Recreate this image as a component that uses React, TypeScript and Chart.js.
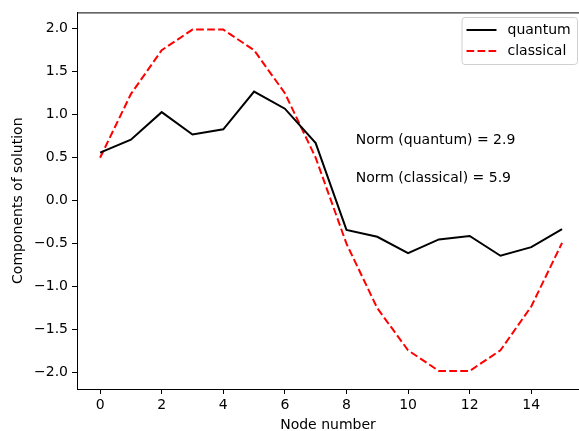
import { useEffect, useRef } from 'react';
import { Chart, registerables } from 'chart.js';

Chart.register(...registerables);

const nodes = [0, 1, 2, 3, 4, 5, 6, 7, 8, 9, 10, 11, 12, 13, 14, 15];
const quantum = [0.56, 0.71, 1.03, 0.77, 0.83, 1.27, 1.07, 0.67, -0.34, -0.42, -0.61, -0.45, -0.41, -0.64, -0.54, -0.33];
const classical = [0.5, 1.24, 1.75, 1.99, 1.99, 1.75, 1.25, 0.5, -0.5, -1.25, -1.74, -1.98, -1.98, -1.74, -1.23, -0.49];
const xTickValues = [0, 2, 4, 6, 8, 10, 12, 14];
const yTickValues = [-2, -1.5, -1, -0.5, 0, 0.5, 1, 1.5, 2];
const seriesLabels = ['quantum', 'classical'];
const annotationTexts = ['Norm (quantum) = 2.9', 'Norm (classical) = 5.9'];
const annotationX = 8.3;
const annotationY = [0.7, 0.26];

const FONT = '"DejaVu Sans", sans-serif';
const FS = 14;

const fmtY = (v: number) => (v < 0 ? '\u2212' : '') + Math.abs(v).toFixed(1);

const extrasPlugin = {
  id: 'extras',
  afterDatasetsDraw(chart: any) {
    const { ctx, chartArea, scales } = chart;
    ctx.save();
    // top spine
    ctx.strokeStyle = '#000';
    ctx.lineWidth = 1;
    ctx.beginPath();
    ctx.moveTo(chartArea.left, chartArea.top + 0.5);
    ctx.lineTo(chartArea.right, chartArea.top + 0.5);
    ctx.stroke();

    // annotations
    ctx.fillStyle = '#000';
    ctx.font = `${FS}px ${FONT}`;
    ctx.textAlign = 'left';
    ctx.textBaseline = 'middle';
    annotationTexts.forEach((t, i) => {
      ctx.fillText(t, scales.x.getPixelForValue(annotationX), scales.y.getPixelForValue(annotationY[i]));
    });

    // legend
    const right = chart.width - 1.5;
    const left = right - 115.5;
    const top = 17.5;
    const bottom = 64.5;
    const r = 3;
    ctx.beginPath();
    ctx.moveTo(left + r, top);
    ctx.lineTo(right - r, top);
    ctx.arcTo(right, top, right, top + r, r);
    ctx.lineTo(right, bottom - r);
    ctx.arcTo(right, bottom, right - r, bottom, r);
    ctx.lineTo(left + r, bottom);
    ctx.arcTo(left, bottom, left, bottom - r, r);
    ctx.lineTo(left, top + r);
    ctx.arcTo(left, top, left + r, top, r);
    ctx.closePath();
    ctx.fillStyle = 'rgba(255,255,255,0.8)';
    ctx.fill();
    ctx.strokeStyle = '#d0d0d0';
    ctx.lineWidth = 1;
    ctx.stroke();

    chart.data.datasets.forEach((ds: any, i: number) => {
      const y = 30 + i * 21;
      ctx.strokeStyle = ds.borderColor;
      ctx.lineWidth = ds.borderWidth;
      ctx.setLineDash(ds.borderDash || []);
      ctx.beginPath();
      ctx.moveTo(left + 4.5, y);
      ctx.lineTo(left + 34.5, y);
      ctx.stroke();
      ctx.setLineDash([]);
      ctx.fillStyle = '#000';
      ctx.textBaseline = 'middle';
      ctx.fillText(ds.label, left + 45.5, y);
    });
    ctx.restore();
  },
};

export default function App() {
  const ref = useRef<HTMLCanvasElement | null>(null);
  useEffect(() => {
    if (!ref.current) return;
    const chart = new Chart(ref.current, {
      type: 'line',
      data: {
        datasets: [
          {
            label: seriesLabels[0],
            data: nodes.map((x, i) => ({ x, y: quantum[i] })),
            borderColor: '#000000',
            borderWidth: 2,
            pointRadius: 0,
            tension: 0,
            fill: false,
          },
          {
            label: seriesLabels[1],
            data: nodes.map((x, i) => ({ x, y: classical[i] })),
            borderColor: '#ff0000',
            borderWidth: 2,
            borderDash: [7.7, 3.3],
            pointRadius: 0,
            tension: 0,
            fill: false,
          },
        ],
      },
      options: {
        responsive: false,
        animation: false,
        devicePixelRatio: 1,
        layout: { padding: { top: 11, left: 0, right: 0, bottom: 0 } },
        plugins: {
          legend: { display: false },
          tooltip: { enabled: false },
        },
        scales: {
          x: {
            type: 'linear',
            min: -0.75,
            max: 15.55,
            afterBuildTicks: (s: any) => {
              s.ticks = xTickValues.map((v) => ({ value: v }));
            },
            afterFit: (s: any) => {
              s.height = 42;
            },
            grid: { display: true, drawOnChartArea: false, drawTicks: true, tickLength: 5, color: '#000', lineWidth: 1 },
            border: { display: true, color: '#000', width: 1 },
            ticks: {
              color: '#000',
              font: { family: FONT, size: FS },
              padding: 3,
              maxRotation: 0,
              autoSkip: false,
              callback: (v: any) => String(v),
            },
            title: {
              display: true,
              text: 'Node number',
              color: '#000',
              font: { family: FONT, size: FS, lineHeight: 1 },
              padding: { top: 0, bottom: -1 },
            },
          },
          y: {
            type: 'linear',
            min: -2.19,
            max: 2.19,
            afterBuildTicks: (s: any) => {
              s.ticks = yTickValues.map((v) => ({ value: v }));
            },
            afterFit: (s: any) => {
              s.width = 77;
            },
            grid: { display: true, drawOnChartArea: false, drawTicks: true, tickLength: 5, color: '#000', lineWidth: 1 },
            border: { display: true, color: '#000', width: 1 },
            ticks: {
              color: '#000',
              font: { family: FONT, size: FS },
              padding: 4,
              autoSkip: false,
              callback: (v: any) => fmtY(Number(v)),
            },
            title: {
              display: true,
              text: 'Components of solution',
              color: '#000',
              font: { family: FONT, size: FS, lineHeight: 1 },
              padding: { top: 11, bottom: 0 },
            },
          },
        },
      },
      plugins: [extrasPlugin],
    });
    return () => chart.destroy();
  }, []);
  return (
    <div style={{ position: 'absolute', left: 0, top: 0, width: 579, height: 431 }}>
      <canvas ref={ref} width={579} height={431} style={{ display: 'block' }} />
    </div>
  );
}
